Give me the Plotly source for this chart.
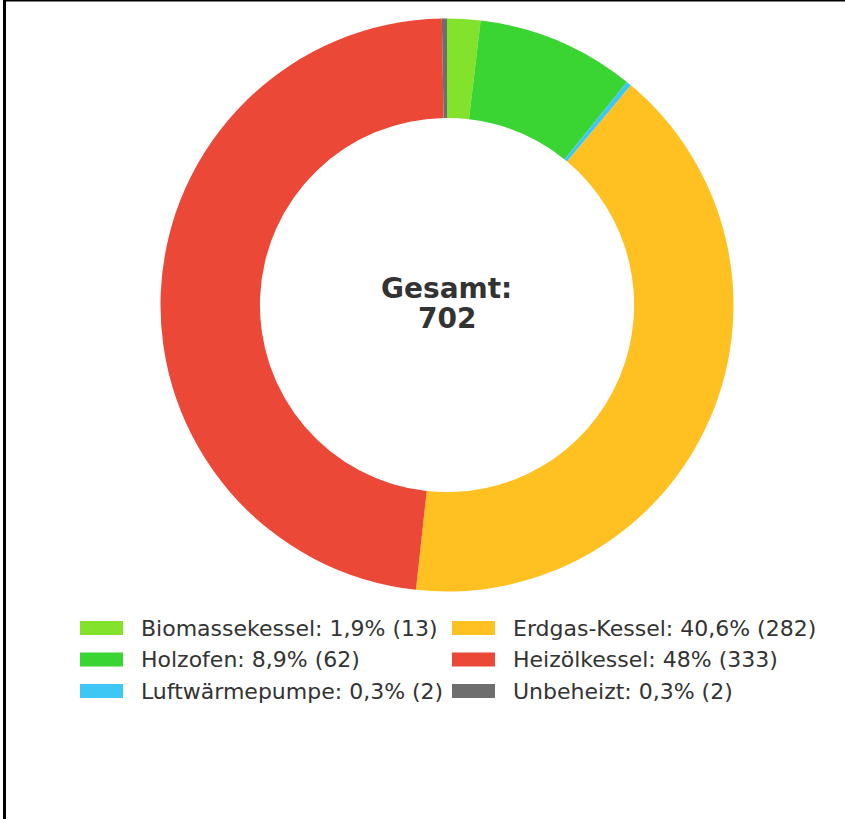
import plotly.graph_objects as go

# Data
categories = ["Biomassekessel", "Holzofen", "Luftwärmepumpe", "Erdgas-Kessel", "Heizölkessel", "Unbeheizt"]
values = [13, 62, 2, 282, 333, 2]
percent_labels = ["1,9%", "8,9%", "0,3%", "40,6%", "48%", "0,3%"]
colors = ["#83E22B", "#3AD433", "#3EC6F4", "#FFC022", "#EB4837", "#6E6E6E"]
total_title = "Gesamt:"
total_label = "702"
legend_order = ["Biomassekessel", "Erdgas-Kessel", "Holzofen", "Heizölkessel", "Luftwärmepumpe", "Unbeheizt"]

W, H = 845, 819
FONT = "DejaVu Sans"

fig = go.Figure()
cx, cy, R = 447, 305, 286.5
fig.add_trace(go.Pie(
    labels=categories,
    values=values,
    sort=False,
    direction="clockwise",
    rotation=0,
    hole=0.653,
    marker=dict(colors=colors, line=dict(width=0)),
    textinfo="none",
    hoverinfo="label+value+percent",
    showlegend=False,
    domain=dict(x=[(cx - R) / W, (cx + R) / W], y=[(H - cy - R) / H, (H - cy + R) / H]),
))

annotations = [
    dict(x=cx / W, y=(H - 288) / H, xref="paper", yref="paper",
         text="<b>" + total_title + "</b>", showarrow=False,
         font=dict(family=FONT, size=28, color="#333333"), xanchor="center", yanchor="middle"),
    dict(x=cx / W, y=(H - 318.5) / H, xref="paper", yref="paper",
         text="<b>" + total_label + "</b>", showarrow=False,
         font=dict(family=FONT, size=28, color="#333333"), xanchor="center", yanchor="middle"),
]
shapes = []

# Manual two-column legend
col_x = [80, 452]
row_y = [628, 659.5, 691]
for i, name in enumerate(legend_order):
    idx = categories.index(name)
    col = i % 2
    row = i // 2
    x0 = col_x[col]
    yc = row_y[row]
    shapes.append(dict(type="rect", xref="paper", yref="paper",
                       x0=x0 / W, x1=(x0 + 43) / W, y0=(H - yc - 7) / H, y1=(H - yc + 7) / H,
                       fillcolor=colors[idx], line=dict(width=0)))
    annotations.append(dict(
        x=(x0 + 59) / W, y=(H - yc) / H, xref="paper", yref="paper",
        text=f"{name}: {percent_labels[idx]} ({values[idx]})", showarrow=False,
        font=dict(family=FONT, size=22, color="#333333"), xanchor="left", yanchor="middle",
    ))

# Frame lines (left and top)
shapes.append(dict(type="line", xref="paper", yref="paper", x0=4.5 / W, x1=4.5 / W, y0=0, y1=1,
                   line=dict(color="black", width=3)))
shapes.append(dict(type="line", xref="paper", yref="paper", x0=3 / W, x1=1, y0=(H - 0.5) / H, y1=(H - 0.5) / H,
                   line=dict(color="black", width=2)))

fig.update_layout(
    width=W, height=H,
    margin=dict(l=0, r=0, t=0, b=0),
    paper_bgcolor="white", plot_bgcolor="white",
    annotations=annotations, shapes=shapes,
    font=dict(family=FONT),
)

fig.write_html("out.html", config={"displayModeBar": False},
               post_script="document.body.style.margin='0';")
